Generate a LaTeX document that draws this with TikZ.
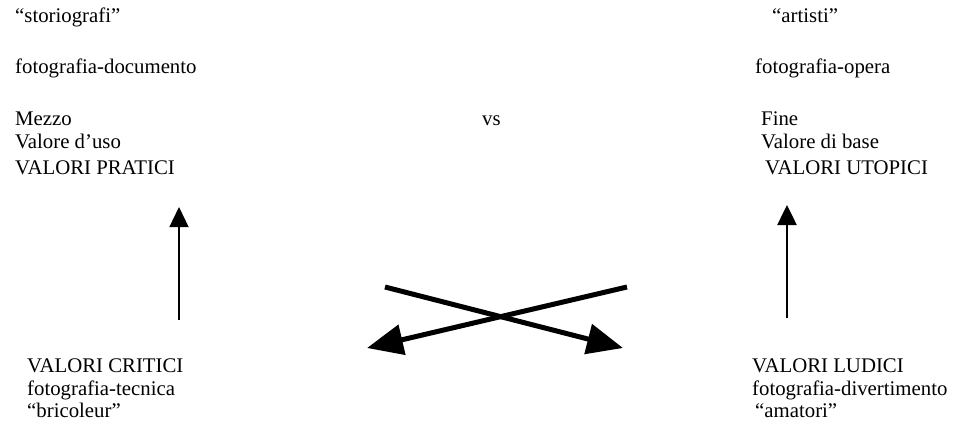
\documentclass[tikz,border=0pt]{standalone}
\usepackage{fontspec}
\setmainfont{Liberation Serif}
\usetikzlibrary{arrows.meta}

\begin{document}
\begin{tikzpicture}[x=1pt,y=-1pt,
  lbl/.style={anchor=base west,inner sep=0pt,font=\fontsize{20.8}{24}\selectfont},
  uparr/.style={-{Triangle[length=20pt,width=19pt]}},
  crossarr/.style={-{Triangle[length=36pt,width=30pt]},line width=5pt}]
\useasboundingbox (0,0) rectangle (954,423);

% upper left group
\node[lbl] (stor)    at (15,23)  {``storiografi''};
\node[lbl] (fotdoc)  at (15,73)  {fotografia-documento};
\node[lbl] (mezzo)   at (15,125) {Mezzo};
\node[lbl] (valuso)  at (15,148) {Valore d'uso};
\node[lbl] (valprat) at (15,174) {VALORI PRATICI};

\node[lbl] (vs) at (482,125) {vs};

% upper right group
\node[lbl] (art)     at (772,23)  {``artisti''};
\node[lbl] (fotop)   at (755,73)  {fotografia-opera};
\node[lbl] (fine)    at (761,125) {Fine};
\node[lbl] (valbase) at (761,148) {Valore di base};
\node[lbl] (valutop) at (765,174) {VALORI UTOPICI};

% lower groups
\node[lbl] (valcrit) at (27,372) {VALORI CRITICI};
\node[lbl] (fottec)  at (27,395) {fotografia-tecnica};
\node[lbl] (bric)    at (27,417) {``bricoleur''};

\node[lbl] (vallud)  at (752,372) {VALORI LUDICI};
\node[lbl] (fotdiv)  at (752,395) {fotografia-divertimento};
\node[lbl] (amat)    at (755,417) {``amatori''};

\coordinate (critTop) at (179,320);
\coordinate (pratBot) at (179,207);
\coordinate (ludTop)  at (787,318);
\coordinate (utopBot) at (787,205);
\coordinate (xA) at (385,287);
\coordinate (xB) at (623,348);
\coordinate (xC) at (627,287);
\coordinate (xD) at (367,348);

\draw[uparr,line width=1.2pt] (critTop) -- (pratBot);
\draw[uparr,line width=2.5pt] (ludTop) -- (utopBot);
\draw[crossarr] (xA) -- (xB);
\draw[crossarr] (xC) -- (xD);

\end{tikzpicture}
\end{document}
